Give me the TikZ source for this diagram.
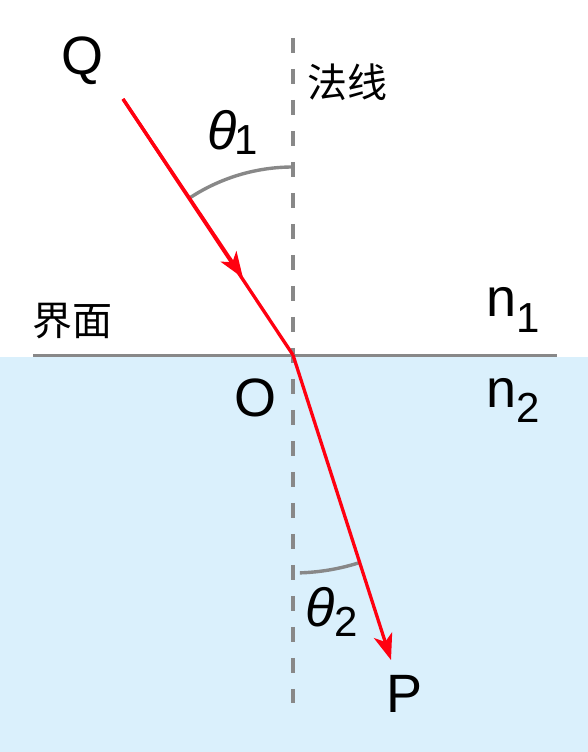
\documentclass[tikz,border=0pt]{standalone}
\usepackage{fontspec}
\setmainfont{Liberation Sans}
\newfontfamily\cjk{Noto Sans CJK SC}
\usetikzlibrary{arrows.meta}
\definecolor{water}{HTML}{DAF0FC}
\definecolor{linegray}{HTML}{888888}
\definecolor{rayred}{HTML}{FF0010}
\begin{document}
\begin{tikzpicture}[x=1pt,y=1pt,
  lbl/.style={inner sep=0pt,outer sep=0pt,font=\fontsize{54}{54}\selectfont},
  cjklbl/.style={inner sep=0pt,outer sep=0pt,font=\cjk\fontsize{40}{40}\selectfont},
  ray/.style={rayred,line width=3.3pt},
  tipA/.style={-{Stealth[length=26pt,width=19pt,inset=7pt]}},
  normalline/.style={linegray,line width=3.4pt,dash pattern=on 15pt off 16pt},
  anglearc/.style={linegray,line width=3.4pt}]
\useasboundingbox (0,0) rectangle (588,752);
\fill[water] (0,0) rectangle (588,395);
% coordinates
\coordinate (o) at (293,397);
\coordinate (qs) at (123,653);
\coordinate (mid) at (243,474);
\coordinate (pe) at (391,92);
\coordinate (ntop) at (293,714);
\coordinate (nbot) at (293,49);
\coordinate (il) at (33,396.5);
\coordinate (ir) at (557,396.5);
% normal and interface
\draw[normalline] (ntop) -- (nbot);
\draw[linegray,line width=3.6pt] (il) -- (ir);
% angle arcs
\draw[anglearc] ([shift={(90:188)}]o) arc[start angle=90,end angle=123.6,radius=188];
\draw[anglearc] ([shift={(-88.2:218)}]o) arc[start angle=-88.2,end angle=-72.2,radius=218];
% rays
\draw[ray] (qs) -- (o);
\draw[ray,tipA] (qs) -- (mid);
\draw[ray,tipA] (o) -- (pe);
% labels
\node[lbl,anchor=base] (q) at (83,677) {Q};
\node[lbl,anchor=base] (olbl) at (255,335) {O};
\node[lbl,anchor=base] (p) at (405,39) {P};
\node[cjklbl] (fx) at (347,670) {法线};
\node[cjklbl] (jm) at (72,431) {界面};
\node[lbl,anchor=base west] (n1) at (486,435) {n\raisebox{-16pt}{\fontsize{42}{42}\selectfont 1}};
\node[lbl,anchor=base west] (n2) at (486,344) {n\raisebox{-15pt}{\fontsize{42}{42}\selectfont 2}};
\node[lbl,anchor=base west] (t1) at (207,602) {\itshape θ\upshape\kern-2pt\raisebox{-5pt}{\fontsize{42}{42}\selectfont 1}};
\node[lbl,anchor=base west] (t2) at (305,125) {\itshape θ\upshape\raisebox{-10pt}{\fontsize{42}{42}\selectfont 2}};
\end{tikzpicture}
\end{document}
